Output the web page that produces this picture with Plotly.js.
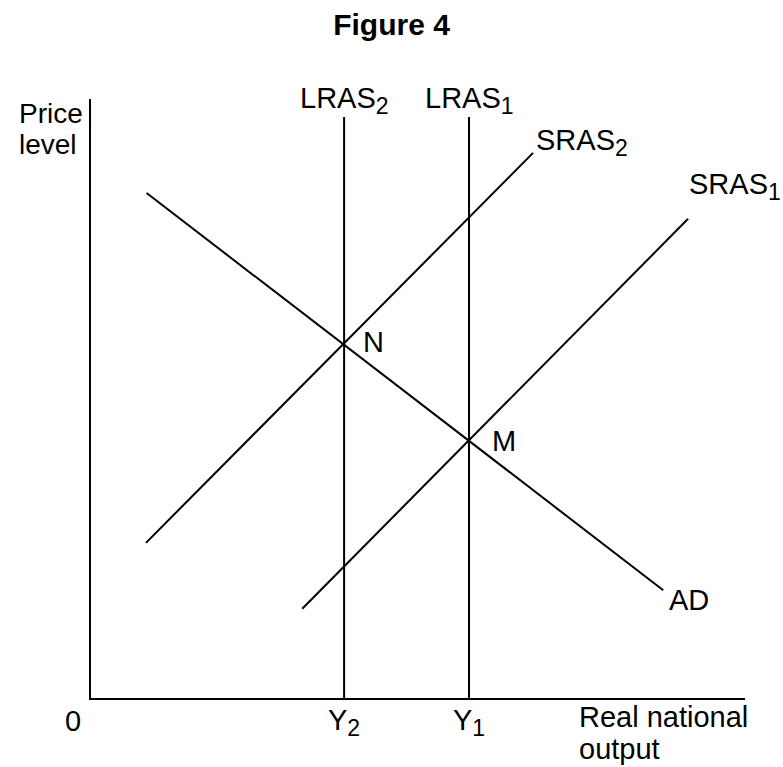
<!DOCTYPE html>
<html>
<head>
<meta charset="utf-8">
<script src="https://cdn.plot.ly/plotly-3.0.1.min.js"></script>
<style>html,body{margin:0;padding:0;background:#fff;}#chart{width:783px;height:767px;}</style>
</head>
<body>
<div id="chart"></div>
<script>
// Chart values (output on x, price level on y, both on a 0-100 scale)
const lras2X = 38.7;
const lras1X = 57.8;
const lrasTop = 97.0;
const adX = [8.5, 87.5];
const adY = [84.3, 18.0];
const sras2X = [8.4, 67.6];
const sras2Y = [25.9, 91.0];
const sras1X = [32.3, 91.3];
const sras1Y = [14.9, 80.0];
const tickVals = [lras2X, lras1X];
const sub = d => "<sub><span style='font-size:23px'>" + d + "</span></sub>";
const tickText = ["Y" + sub("2"), "Y" + sub("1")];

const FONT = "Arial, 'Liberation Sans', sans-serif";
const line = {color: "#000", width: 2};

const traces = [
  {x: [lras2X, lras2X], y: [0, lrasTop], mode: "lines", line: line, name: "LRAS2"},
  {x: [lras1X, lras1X], y: [0, lrasTop], mode: "lines", line: line, name: "LRAS1"},
  {x: adX, y: adY, mode: "lines", line: line, name: "AD"},
  {x: sras2X, y: sras2Y, mode: "lines", line: line, name: "SRAS2"},
  {x: sras1X, y: sras1Y, mode: "lines", line: line, name: "SRAS1"}
];

function interX(x1, y1, x2, y2, xv) { return y1 + (y2 - y1) * (xv - x1) / (x2 - x1); }
const nY = interX(adX[0], adY[0], adX[1], adY[1], lras2X);
const mY = interX(adX[0], adY[0], adX[1], adY[1], lras1X);

const f = {family: FONT, size: 29, color: "#000"};
const fs = {family: FONT, size: 28, color: "#000"};
const annotations = [
  {x: lras2X, y: lrasTop, xref: "x", yref: "y", text: "LRAS" + sub("2"), showarrow: false, xanchor: "center", yanchor: "bottom", yshift: -4, font: f},
  {x: lras1X, y: lrasTop, xref: "x", yref: "y", text: "LRAS" + sub("1"), showarrow: false, xanchor: "center", yanchor: "bottom", yshift: -4, font: f},
  {x: sras2X[1], y: sras2Y[1], xref: "x", yref: "y", text: "SRAS" + sub("2"), showarrow: false, xanchor: "left", yanchor: "middle", xshift: 1, yshift: 10, font: f},
  {x: sras1X[1], y: sras1Y[1], xref: "x", yref: "y", text: "SRAS" + sub("1"), showarrow: false, xanchor: "left", yanchor: "middle", xshift: -1, yshift: 32, font: f},
  {x: adX[1], y: adY[1], xref: "x", yref: "y", text: "AD", showarrow: false, xanchor: "left", yanchor: "middle", xshift: 4, yshift: -10, font: f},
  {x: lras2X, y: nY, xref: "x", yref: "y", text: "N", showarrow: false, xanchor: "left", yanchor: "middle", xshift: 17, yshift: 3, font: f},
  {x: lras1X, y: mY, xref: "x", yref: "y", text: "M", showarrow: false, xanchor: "left", yanchor: "middle", xshift: 21, yshift: 0, font: f},
  {x: 0, y: 0, xref: "x", yref: "y", text: "0", showarrow: false, xanchor: "center", yanchor: "top", xshift: -18, yshift: -5, font: f},
  {x: 17, y: 767 - 96, xref: "paper", yref: "paper", text: "Price", showarrow: false, xanchor: "left", yanchor: "top", align: "left", font: fs},
  {x: 17, y: 767 - 127, xref: "paper", yref: "paper", text: "level", showarrow: false, xanchor: "left", yanchor: "top", align: "left", font: fs},
  {x: 74.3, y: 0, xref: "x", yref: "y", text: "Real national", showarrow: false, xanchor: "left", yanchor: "top", align: "left", yshift: -1, font: f},
  {x: 74.3, y: 0, xref: "x", yref: "y", text: "output", showarrow: false, xanchor: "left", yanchor: "top", align: "left", yshift: -33, font: f}
];
annotations.forEach(a => {
  if (a.xref === "paper") {
    a.x = (a.x - 91) / (783 - 91 - 38);
    a.y = (a.y - 69) / (767 - 99 - 69);
  }
});

const layout = {
  width: 783, height: 767,
  margin: {l: 91, r: 38, t: 99, b: 69},
  paper_bgcolor: "#fff", plot_bgcolor: "#fff",
  showlegend: false,
  title: {text: "<b>Figure 4</b>", x: 0.5, xanchor: "center", y: 0.968, yanchor: "middle", font: {family: FONT, size: 30, color: "#000"}},
  xaxis: {range: [0, 100], showgrid: false, zeroline: false, showline: true, linecolor: "#000", linewidth: 2,
          tickvals: tickVals, ticktext: tickText, ticks: "", tickfont: f, ticklabelstandoff: -5, fixedrange: true},
  yaxis: {range: [0, 100], showgrid: false, zeroline: false, showline: true, linecolor: "#000", linewidth: 2,
          showticklabels: false, ticks: "", fixedrange: true},
  annotations: annotations
};

Plotly.newPlot("chart", traces, layout, {displayModeBar: false, staticPlot: true});
</script>
</body>
</html>
